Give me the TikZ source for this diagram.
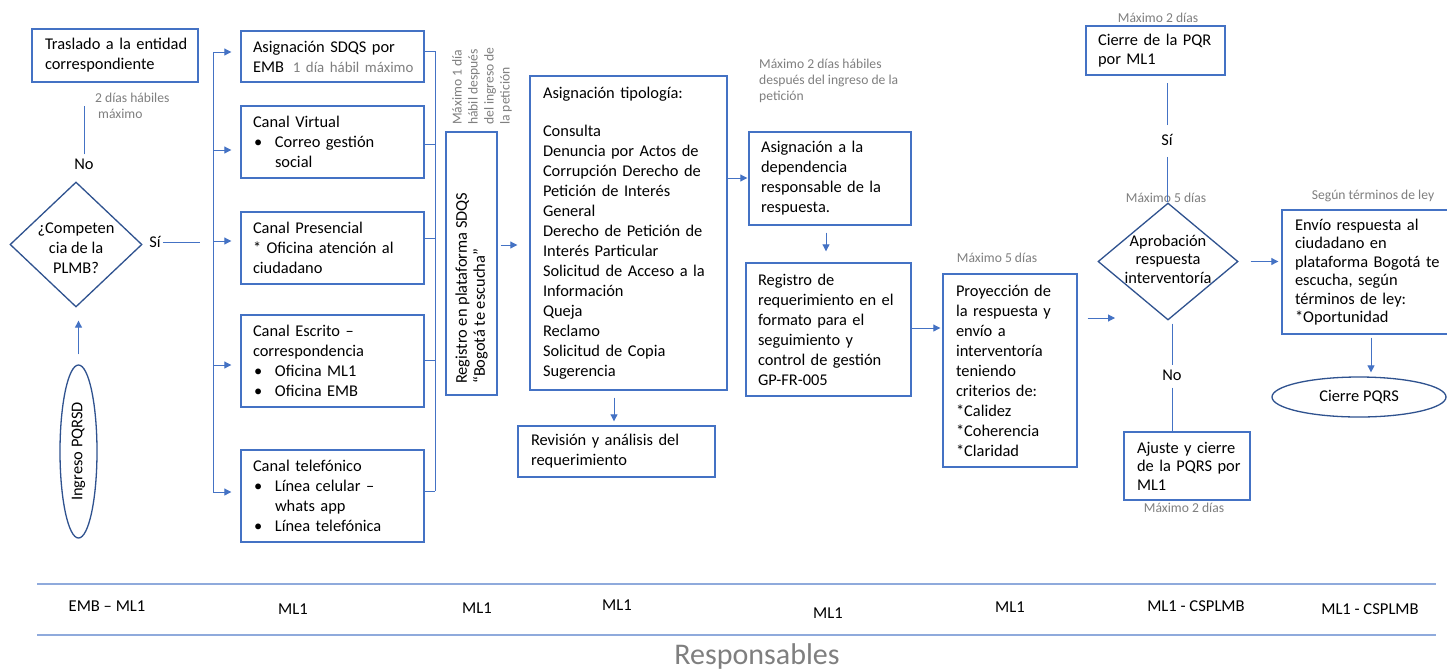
\documentclass[tikz,border=0pt]{standalone}
\usepackage{fontspec}
\setmainfont{Carlito}
\usepackage{graphicx}
\usetikzlibrary{arrows.meta,shapes.geometric}
\definecolor{boxblue}{HTML}{4472C4}
\definecolor{shpblue}{HTML}{2F528F}
\definecolor{anngray}{HTML}{7F7F7F}
\definecolor{seplc}{HTML}{8FAADC}
\newcommand{\bul}{\makebox[22pt][l]{\hspace{1pt}\textbullet}}
\newcommand{\ind}{\hspace*{22pt}}
\begin{document}
\begin{tikzpicture}[x=1pt,y=-1pt,
  mainfont/.style={font=\fontsize{16.4}{20}\selectfont},
  rfont/.style={font=\fontsize{16.4}{18.5}\selectfont},
  boxst/.style={draw=boxblue, line width=1.4pt, inner xsep=0pt, inner ysep=0pt, align=left, mainfont},
  bx/.style n args={3}{boxst, text width=#1pt, minimum height=#2pt, execute at begin node={\leftskip=#3pt\relax}},
  shp/.style={draw=shpblue, line width=1.3pt, inner sep=0pt},
  txt/.style={inner sep=0pt, mainfont},
  ann/.style={inner sep=0pt, text=anngray, font=\fontsize{13.6}{16}\selectfont, align=left},
  conn/.style={draw=boxblue, line width=1pt},
  arr/.style={conn, -{Triangle[length=7pt,width=7pt]}},
  resp/.style={inner sep=0pt, font=\fontsize{16.6}{18}\selectfont},
  sepline/.style={draw=seplc, line width=1.3pt}]
\useasboundingbox (0,0) rectangle (1447,670);
\fill[white] (0,0) rectangle (1447,670);

% ---- left column
\node[bx={166}{53}{13}] (trasl) at (115,55.5) {Traslado a la entidad\\correspondiente};
\node[diamond, shp, minimum width=132pt, minimum height=125pt] (dia1) at (76,244.5) {};
\node[txt, align=center] (dia1t) at (76,248) {¿Competen\\cia de la\\PLMB?};
\node[ellipse, shp, minimum width=37pt, minimum height=173pt, mainfont] (ing) at (78.5,451.5) {\rotatebox{90}{Ingreso PQRSD}};
\node[txt] (no1) at (84,164) {No};
\node[txt] (si1) at (155,242) {Sí};
\node[ann, anchor=west] (a1) at (95,105.5) {2 días hábiles\\\hspace*{3pt}máximo};

% ---- channels
\node[bx={183}{51}{12}] (asig) at (332.5,56.5) {Asignación SDQS por\\EMB\hspace{9pt}{\color{anngray}\fontsize{14.9}{20}\selectfont 1 día hábil máximo}};
\node[bx={183}{72}{12}] (virt) at (332.5,142) {Canal Virtual\\\bul Correo gestión\\\ind social};
\node[bx={183}{72}{12}] (pres) at (332.5,248) {Canal Presencial\\{}* Oficina atención al\\ciudadano};
\node[bx={183}{92}{12}] (escr) at (332.5,361) {Canal Escrito –\\correspondencia\\\bul Oficina ML1\\\bul Oficina EMB};
\node[bx={183}{92}{12}] (tele) at (332.5,496) {Canal telefónico\\\bul Línea celular –\\\ind whats app\\\bul Línea telefónica};

% ---- registro
\node[draw=boxblue, line width=1.4pt, inner sep=0pt, minimum width=51pt, minimum height=263pt] (reg) at (471.5,263.5) {};
\node[txt, rotate=90, anchor=west, align=left, font=\fontsize{16.4}{18}\selectfont] (regtxt) at (471.5,384) {Registro en plataforma SDQS\\“Bogotá te escucha”};
\node[ann, anchor=west, rotate=90] (a2) at (482,125) {Máximo 1 día\\hábil después\\del ingreso de\\la petición};

% ---- tipologia
\node[bx={197}{314}{13}] (tipo) at (628.5,233) {Asignación tipología:\\[18pt]Consulta\\Denuncia por Actos de\\Corrupción Derecho de\\Petición de Interés\\General\\Derecho de Petición de\\Interés Particular\\Solicitud de Acceso a la\\Información\\Queja\\Reclamo\\Solicitud de Copia\\Sugerencia};
\node[bx={197}{51}{13}] (revi) at (616.5,451.5) {Revisión y análisis del\\requerimiento};

% ---- dependencia
\node[ann, anchor=west] (a3) at (759,81) {Máximo 2 días hábiles\\después del ingreso de la\\petición};
\node[bx={162}{93}{12}] (depe) at (830,178.5) {Asignación a la\\dependencia\\responsable de la\\respuesta.};
\node[bx={165}{133}{12}] (regreq) at (828.5,329.5) {Registro de\\requerimiento en el\\formato para el\\seguimiento y\\control de gestión\\GP-FR-005};
\node[ann] (a4) at (997,258) {Máximo 5 días};
\node[bx={134}{193}{13}] (proy) at (1010,370.5) {Proyección de\\la respuesta y\\envío a\\interventoría\\teniendo\\criterios de:\\{}*Calidez\\{}*Coherencia\\{}*Claridad};

% ---- approval
\node[ann] (a5) at (1158,18) {Máximo 2 días};
\node[bx={139}{49}{12}, rfont] (cierre) at (1155.5,50.5) {Cierre de la PQR\\por ML1};
\node[txt] (si2) at (1167,140) {Sí};
\node[ann] (a6) at (1166,198) {Máximo 5 días};
\node[diamond, shp, minimum width=140pt, minimum height=117pt] (dia2) at (1168,261.5) {};
\node[txt, align=center, rfont] (dia2t) at (1168,259) {Aprobación\\respuesta\\interventoría};
\node[txt] (no2) at (1172,375) {No};
\node[bx={126}{68}{13}, rfont] (ajuste) at (1187,466) {Ajuste y cierre\\de la PQRS por\\ML1};
\node[ann] (a8) at (1184,508) {Máximo 2 días};
\node[ann] (a7) at (1373,196) {Según términos de ley};
\node[bx={170}{124}{13}, rfont] (envio) at (1367,272) {Envío respuesta al\\ciudadano en\\plataforma Bogotá te\\escucha, según\\términos de ley:\\{}*Oportunidad};
\node[ellipse, shp, minimum width=174pt, minimum height=40pt, mainfont] (fin) at (1359,397) {Cierre PQRS};

% ---- connectors
\draw[arr, shorten <=10pt, shorten >=13pt] (ing.north) -- (ing.north |- dia1.south);
\draw[conn, shorten <=4pt, shorten >=23pt] (no1.north) -- (no1.north |- trasl.south);
\coordinate (b1) at (213,52);
\coordinate (b2) at (213,150);
\coordinate (b3) at (213,241);
\coordinate (b4) at (213,365);
\coordinate (b5) at (213,492);
\draw[conn, shorten <=2pt, shorten >=13pt] (si1.east) -- (si1.east -| b1);
\draw[conn] (b1) -- (b5);
\foreach \b/\n in {b1/asig,b2/virt,b3/pres,b4/escr,b5/tele}
  \draw[arr, shorten >=9pt] (\b) -- (\b -| \n.west);
\coordinate (r1) at (435,51);
\coordinate (r2) at (435,144);
\coordinate (r3) at (435,238);
\coordinate (r4) at (435,360);
\coordinate (r5) at (435,491);
\draw[conn] (r1) -- (r5);
\foreach \r/\n in {r1/asig,r2/virt,r3/pres,r4/escr,r5/tele}
  \draw[conn] (\n.east |- \r) -- (\r);
\coordinate (y1) at (0,245);
\draw[arr, shorten <=3pt, shorten >=12pt] (reg.east |- y1) -- (tipo.west |- y1);
\coordinate (y2) at (0,178);
\draw[arr, shorten >=1pt] (tipo.east |- y2) -- (depe.west |- y2);
\coordinate (x1) at (614,0);
\draw[arr, shorten <=7pt, shorten >=4pt] (tipo.south -| x1) -- (revi.north -| x1);
\coordinate (x2) at (826,0);
\draw[arr, shorten <=7pt, shorten >=11pt] (depe.south -| x2) -- (regreq.north -| x2);
\coordinate (y3) at (0,328);
\draw[arr, shorten >=2pt] (regreq.east |- y3) -- (proy.west |- y3);
\coordinate (p2d) at (1115,318);
\draw[arr, shorten <=10pt] (proy.east |- p2d) -- (p2d);
\draw[arr, shorten <=12pt, shorten >=3pt] (dia2.east) -- (envio.west |- dia2.east);
\coordinate (x3) at (1371,0);
\draw[arr, shorten <=3pt, shorten >=4pt] (envio.south -| x3) -- (fin.north -| x3);
\draw[conn, shorten <=9pt, shorten >=7pt] (si2.north) -- (si2.north |- cierre.south);
\draw[conn, shorten <=11pt] (si2.south) -- (si2.south |- dia2.north);
\draw[conn, shorten <=3pt, shorten >=4pt] (no2.north |- dia2.south) -- (no2.north);
\draw[conn, shorten <=7pt] (no2.south) -- (no2.south |- ajuste.north);

% ---- responsables
\draw[sepline] (37,584) -- (1436,584);
\draw[sepline] (37,635) -- (1436,635);
\node[resp] (l1) at (107,606.5) {EMB – ML1};
\node[resp] (l2) at (293,609) {ML1};
\node[resp] (l3) at (477,608) {ML1};
\node[resp] (l4) at (617,605) {ML1};
\node[resp] (l5) at (828,613) {ML1};
\node[resp] (l6) at (1010,607.5) {ML1};
\node[resp] (l7) at (1196,606) {ML1 - CSPLMB};
\node[resp] (l8) at (1370,609) {ML1 - CSPLMB};
\node[inner sep=0pt, text=anngray, font=\fontsize{30}{32}\selectfont] (respt) at (757,656) {Responsables};
\end{tikzpicture}
\end{document}
